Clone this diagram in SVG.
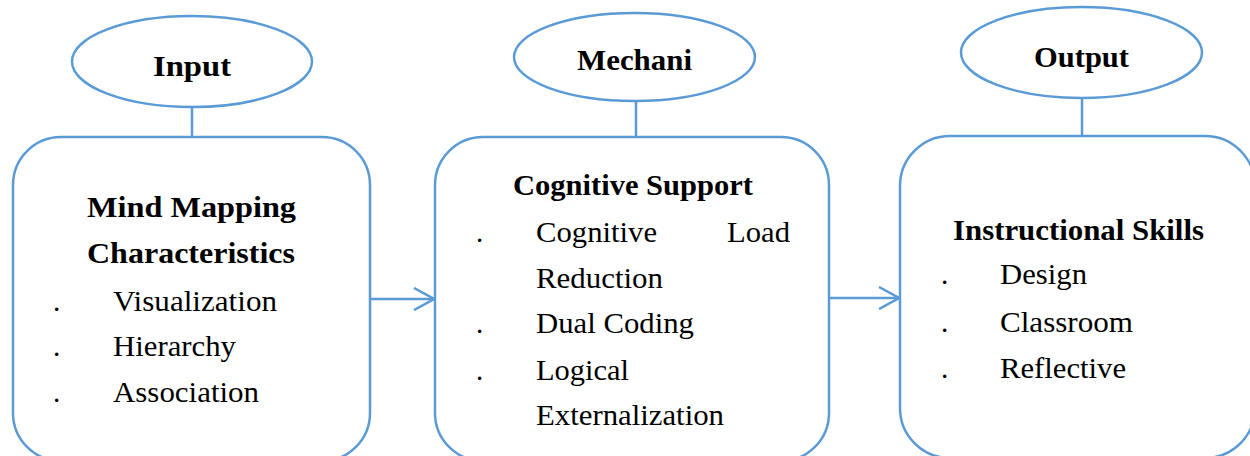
<svg xmlns="http://www.w3.org/2000/svg" width="1250" height="456" viewBox="0 0 1250 456">
  <defs>
    <style>
      .shape { fill: #ffffff; stroke: #5b9bd5; stroke-width: 2.5; }
      .link { fill: none; stroke: #5b9bd5; stroke-width: 2.5; }
      text { font-family: 'Liberation Serif', 'DejaVu Serif', serif; fill: #000000; font-size: 29px; }
      .title { font-weight: bold; }
    </style>
    <marker id="chevron" viewBox="0 0 22 24" refX="21" refY="12" markerWidth="22" markerHeight="24" markerUnits="userSpaceOnUse" orient="auto">
      <path d="M1,1 L21,12 L1,23" fill="none" stroke="#5b9bd5" stroke-width="2.5"/>
    </marker>
  </defs>

  <!-- connectors: stems from labels to boxes, and flow arrows -->
  <g id="connectors">
    <line class="link" x1="192" y1="107" x2="192" y2="137"/>
    <line class="link" x1="636" y1="101" x2="636" y2="137"/>
    <line class="link" x1="1082" y1="98" x2="1082" y2="136"/>
    <line class="link" x1="370" y1="299" x2="434" y2="299" marker-end="url(#chevron)"/>
    <line class="link" x1="829" y1="298" x2="899" y2="298" marker-end="url(#chevron)"/>
  </g>

  <!-- input stage -->
  <g id="input">
    <ellipse class="shape" cx="192" cy="61.5" rx="120" ry="45.5"/>
    <text class="title" x="192" y="76" text-anchor="middle" textLength="78" lengthAdjust="spacingAndGlyphs">Input</text>
    <rect class="shape" x="13" y="137" width="357" height="324" rx="48" ry="48"/>
    <text class="title" x="87" y="217" textLength="209" lengthAdjust="spacingAndGlyphs">Mind Mapping</text>
    <text class="title" x="87" y="263" textLength="208" lengthAdjust="spacingAndGlyphs">Characteristics</text>
    <text x="53" y="311">.</text>
    <text x="113" y="311" textLength="164" lengthAdjust="spacingAndGlyphs">Visualization</text>
    <text x="53" y="356">.</text>
    <text x="113" y="356" textLength="123" lengthAdjust="spacingAndGlyphs">Hierarchy</text>
    <text x="53" y="402">.</text>
    <text x="113" y="402" textLength="146" lengthAdjust="spacingAndGlyphs">Association</text>
  </g>

  <!-- mechanism stage -->
  <g id="mechanism">
    <ellipse class="shape" cx="634.5" cy="57" rx="120.5" ry="44"/>
    <text class="title" x="634.5" y="70" text-anchor="middle" textLength="115" lengthAdjust="spacingAndGlyphs">Mechani</text>
    <rect class="shape" x="435" y="137" width="394" height="324" rx="48" ry="48"/>
    <text class="title" x="513" y="195" textLength="240" lengthAdjust="spacingAndGlyphs">Cognitive Support</text>
    <text x="476" y="242">.</text>
    <text x="536" y="242" textLength="121" lengthAdjust="spacingAndGlyphs">Cognitive</text>
    <text x="727" y="242" textLength="63" lengthAdjust="spacingAndGlyphs">Load</text>
    <text x="536" y="288" textLength="127" lengthAdjust="spacingAndGlyphs">Reduction</text>
    <text x="476" y="333">.</text>
    <text x="536" y="333" textLength="158" lengthAdjust="spacingAndGlyphs">Dual Coding</text>
    <text x="476" y="380">.</text>
    <text x="536" y="380" textLength="93" lengthAdjust="spacingAndGlyphs">Logical</text>
    <text x="536" y="425" textLength="188" lengthAdjust="spacingAndGlyphs">Externalization</text>
  </g>

  <!-- output stage -->
  <g id="output">
    <ellipse class="shape" cx="1081.5" cy="52.5" rx="120.5" ry="45.5"/>
    <text class="title" x="1081.5" y="67" text-anchor="middle" textLength="95" lengthAdjust="spacingAndGlyphs">Output</text>
    <rect class="shape" x="900" y="136" width="355" height="322" rx="50" ry="50"/>
    <text class="title" x="953" y="240" textLength="251" lengthAdjust="spacingAndGlyphs">Instructional Skills</text>
    <text x="941" y="284">.</text>
    <text x="1000" y="284" textLength="87" lengthAdjust="spacingAndGlyphs">Design</text>
    <text x="941" y="332">.</text>
    <text x="1000" y="332" textLength="133" lengthAdjust="spacingAndGlyphs">Classroom</text>
    <text x="941" y="378">.</text>
    <text x="1000" y="378" textLength="126" lengthAdjust="spacingAndGlyphs">Reflective</text>
  </g>
</svg>
